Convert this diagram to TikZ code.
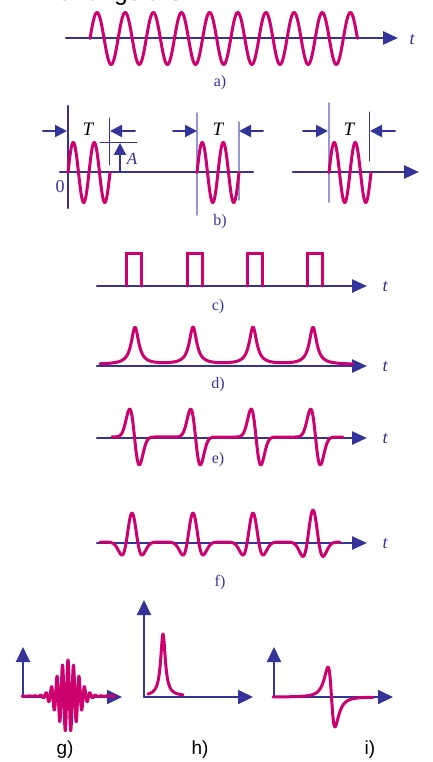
\documentclass[tikz,border=0pt]{standalone}
\usepackage{fontspec}
\setmainfont{Liberation Serif}
\setsansfont{Liberation Sans}
\usepackage{tikz}
\usetikzlibrary{arrows.meta}
\usepackage{tkz-euclide}
\definecolor{pulse}{RGB}{204,0,110}
\definecolor{axisblue}{RGB}{51,51,153}
\definecolor{guide}{RGB}{150,150,210}
\tikzset{
  axis/.style={axisblue, line width=2.5pt},
  axisarrow/.style={axis, -{Triangle[length=15pt,width=13pt]}},
  smallaxis/.style={axisblue, line width=2pt, -{Triangle[length=15pt,width=14pt]}},
  signal/.style={pulse, line width=3pt, line join=round, line cap=round},
  thinline/.style={axisblue, line width=1pt},
  guideline/.style={guide, line width=1.5pt},
  dimarrow/.style={axisblue, line width=2pt, -{Triangle[length=12pt,width=12pt]}},
  caption/.style={text=axisblue, font=\fontsize{16}{18}\selectfont},
  tlabel/.style={text=axisblue, font=\fontsize{18}{20}\selectfont\itshape},
  sublabel/.style={font=\fontsize{19}{22}\selectfont\sffamily}
}

\begin{document}
\begin{tikzpicture}[x=1pt, y=-1pt,
    declare function={
      cut(\t)=max(-8,min(8,\t));
      lor(\t)=1/(1+\t*\t);
      dlor(\t)=\t/(1+\t*\t)/(1+\t*\t);
      dgau(\t)=\t*exp(-\t*\t/2);
      ricker(\t)=(1-\t*\t)*exp(-\t*\t/2);
      gau(\t)=exp(-\t*\t/2);
    }]
                \useasboundingbox (0,0) rectangle (433,762);
                \begin{scope}
                  \clip (0,0) rectangle (433,762);
                  \node[anchor=base east, font=\fontsize{24}{28}\selectfont\sffamily] (head) at (186,1) {in a range are};
                \end{scope}
                \tkzDefPoints{66/38/A1, 398/38/A2}
                \tkzDrawSegments[axisarrow](A1,A2)
                \draw[signal] plot[domain=90:357.4, samples=400] (\x, {38.5-26*sin((\x-90)/28.15*360)});
                \node[tlabel] (ta) at (412,40) {t};
                \node[caption] (capa) at (220,83) {a)};
                \tkzDefPoints{60/172/B1, 253/172/B2, 293/172/B3, 419/172/B4, 68/106/B5, 68/208/B6}
                \tkzDrawSegments[axis](B1,B2 B5,B6)
                \tkzDrawSegments[axisarrow](B3,B4)
                \tkzDefPoints{109/118/C1, 109/165/C2, 100/143/C3, 137/143/C4, 369/112/C5, 369/161/C6}
                \tkzDrawSegments[thinline](C1,C2 C3,C4 C5,C6)
                \tkzDefPoints{197/113/D1, 197/215/D2, 239/122/D3, 239/200/D4, 329/103/D5, 329/202/D6}
                \tkzDrawSegments[guideline](D1,D2 D3,D4 D5,D6)
                \tkzDefPoints{120/172/E1, 120/143/E2}
                \tkzDrawSegments[dimarrow](E1,E2)
                \tkzDefPoints{43/131/F1, 67/131/F2, 135/131/F3, 110/131/F4, 173/131/F5, 197/131/F6,
                              263/131/F7, 239/131/F8, 303/131/F9, 328/131/F10, 395/131/F11, 370/131/F12}
                \tkzDrawSegments[dimarrow](F1,F2 F3,F4 F5,F6 F7,F8 F9,F10 F11,F12)
                \foreach \s in {68,197,329}
                  \draw[signal] plot[domain=\s:\s+42, samples=150] (\x, {172.5-30*sin((\x-\s)/21*360)});
                \node[font=\fontsize{19}{22}\selectfont\itshape] (T1) at (88,129) {T};
                \node[font=\fontsize{19}{22}\selectfont\itshape] (T2) at (218,129) {T};
                \node[font=\fontsize{19}{22}\selectfont\itshape] (T3) at (349,129) {T};
                \node[text=axisblue, font=\fontsize{17}{20}\selectfont\itshape] (amp) at (132,159) {A};
                \node[text=axisblue, font=\fontsize{18}{20}\selectfont] (zero) at (60,187) {0};
                \node[tlabel] (tb) at (436,174) {t};
                \node[caption] (capb) at (220,222) {b)};
                \tkzDefPoints{97/286/G1, 367/286/G2, 97/366/G3, 367/366/G4, 97/438/G5, 367/438/G6, 97/543/G7, 367/543/G8}
                \tkzDrawSegments[axisarrow](G1,G2 G3,G4 G5,G6 G7,G8)
                \foreach \c in {126,187,247,307}
                  \draw[signal, line join=miter] (\c,286) -- (\c,253) -- (\c+15,253) -- (\c+15,286);
                \node[tlabel] (tc) at (385,287) {t};
                \node[caption] (capc) at (218,307) {c)};
                \draw[signal] plot[domain=100:353, samples=500]
                  (\x, {364.5-37*(lor((\x-135)/4.5)+lor((\x-193)/4.5)+lor((\x-253)/4.5)+lor((\x-313)/4.5))});
                \node[tlabel] (td) at (385,367) {t};
                \node[caption] (capd) at (218,385) {d)};
                \draw[signal] plot[domain=112:343, samples=500]
                  (\x, {437+46*(dgau(cut((\x-134.5)/4.8))+dgau(cut((\x-195.5)/4.8))+dgau(cut((\x-256)/4.8))+dgau(cut((\x-315.5)/4.8)))});
                \node[tlabel] (te) at (385,439) {t};
                \node[caption] (cape) at (218,460) {e)};
                \draw[signal] plot[domain=100:340, samples=500]
                  (\x, {542-29*(ricker(cut((\x-132)/5.8))+ricker(cut((\x-193)/5.8))+ricker(cut((\x-253)/5.8)))-32*ricker(cut((\x-313)/5.8))});
                \node[tlabel] (tf) at (385,544) {t};
                \node[caption] (capf) at (220,583) {f)};
                \tkzDefPoints{23/697/H0, 23/647/H1, 122/697/H2, 144/697/H3, 144/600/H4, 253/697/H5, 274/697/H6, 274/647/H7, 393/697/H8}
                \tkzDrawSegments[smallaxis](H0,H1 H0,H2 H3,H4 H3,H5 H6,H7 H6,H8)
                \draw[signal] plot[domain=22:115, samples=900]
                  (\x, {696-36*gau(cut((\x-68)/10))*cos((\x-68)/5.5*360)});
                \draw[signal] plot[domain=148:183, samples=200] (\x, {696-62*lor((\x-163)/2.8)});
                \draw[signal] plot[domain=273:373, samples=300] (\x, {697+92*dlor((\x-331.5)/6)});
                \node[sublabel] (capg) at (65,750) {g)};
                \node[sublabel] (caph) at (200,750) {h)};
                \node[sublabel] (capi) at (370,750) {i)};
            \end{tikzpicture}
\end{document}
